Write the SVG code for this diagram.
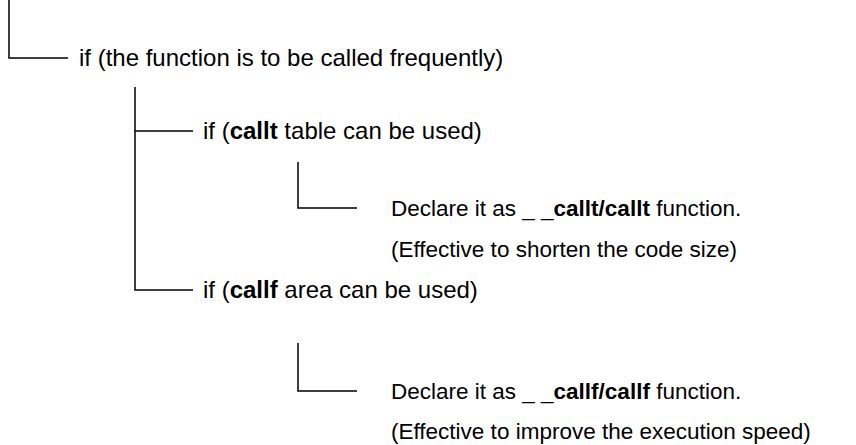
<svg xmlns="http://www.w3.org/2000/svg" width="856" height="445" viewBox="0 0 856 445">
<style>
.c{fill:none;stroke:#000;stroke-width:1.5}
text{font-family:"Liberation Sans",Arial,Helvetica,sans-serif;font-size:24px;fill:#000}
.d{font-size:22.5px}
.b{font-weight:bold}
</style>
<rect width="856" height="445" fill="#fff"/>
<g id="connectors">
<path class="c" d="M9,0 V58 H68"/>
<path class="c" d="M135,87 V290 H193 M135,131 H193"/>
<path class="c" d="M298,162 V208 H357"/>
<path class="c" d="M298,343 V391 H357"/>
</g>
<g id="n1"><text x="79" y="66">if (the function is to be called frequently)</text></g>
<g id="n2"><text x="203" y="139">if (<tspan class="b">callt</tspan> table can be used)</text></g>
<g id="n3"><text class="d" x="391" y="216">Declare it as _ _<tspan class="b">callt/callt</tspan> function.</text>
<text class="d" x="391" y="257">(Effective to shorten the code size)</text></g>
<g id="n4"><text x="203" y="298">if (<tspan class="b">callf</tspan> area can be used)</text></g>
<g id="n5"><text class="d" x="391" y="399">Declare it as _ _<tspan class="b">callf/callf</tspan> function.</text>
<text class="d" x="391" y="439">(Effective to improve the execution speed)</text></g>
</svg>
